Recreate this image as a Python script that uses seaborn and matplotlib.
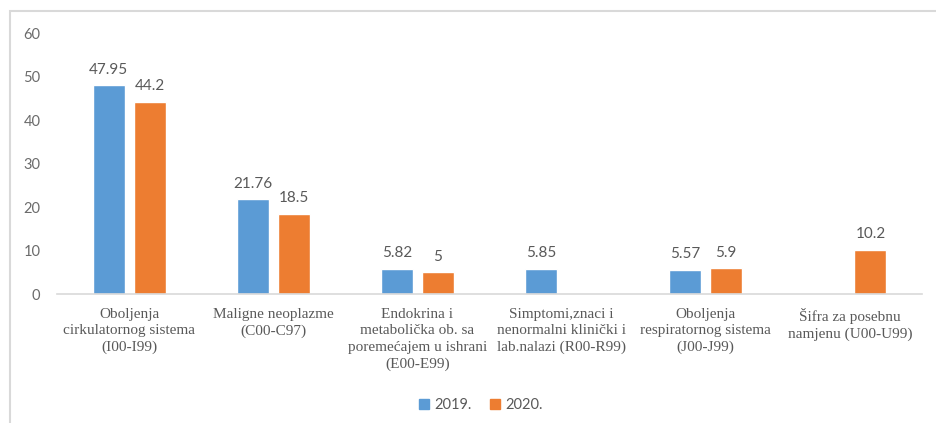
import pandas as pd
import numpy as np
import seaborn as sns
import matplotlib.pyplot as plt
from matplotlib.patches import Rectangle

categories = [
    "Oboljenja\ncirkulatornog sistema\n(I00-I99)",
    "Maligne neoplazme\n(C00-C97)",
    "Endokrina i\nmetabolička ob. sa\nporemećajem u ishrani\n(E00-E99)",
    "Simptomi,znaci i\nnenormalni klinički i\nlab.nalazi (R00-R99)",
    "Oboljenja\nrespiratornog sistema\n(J00-J99)",
    "Šifra za posebnu\nnamjenu (U00-U99)",
]
values_2019 = [47.95, 21.76, 5.82, 5.85, 5.57, np.nan]
values_2020 = [44.2, 18.5, 5, np.nan, 5.9, 10.2]
years = ["2019.", "2020."]
colors = ["#5B9BD5", "#ED7D31"]

df = pd.DataFrame({
    "kategorija": categories * 2,
    "godina": [years[0]] * len(categories) + [years[1]] * len(categories),
    "vrijednost": values_2019 + values_2020,
})

sns.set_style("white")
plt.rcParams["font.family"] = ["Lato", "DejaVu Sans"]

fig = plt.figure(figsize=(9.36, 4.23), dpi=100)
ax = fig.add_axes([57 / 936, 1 - 294 / 423, 865 / 936, 261 / 423])

sns.barplot(
    data=df, x="kategorija", y="vrijednost", hue="godina",
    order=categories, hue_order=years, palette=colors,
    width=0.57, gap=0.22, errorbar=None, saturation=1, ax=ax,
)

for c in ax.containers:
    ax.bar_label(c, fmt="{:g}", padding=6, fontsize=11, color="#595959")

ax.set_ylim(0, 60)
ax.set_yticks(range(0, 61, 10))
ax.set_xlim(-0.5, len(categories) - 0.5)
ax.set_xlabel("")
ax.set_ylabel("")
ax.tick_params(axis="y", labelsize=10.5, labelcolor="#6b6b6b", length=0, pad=12)
ax.tick_params(axis="x", length=0, pad=10)
for lab in ax.get_xticklabels():
    lab.set_family("Liberation Serif")
    lab.set_fontsize(11)
    lab.set_color("#595959")
    lab.set_linespacing(1.35)

for s in ["top", "right", "left"]:
    ax.spines[s].set_visible(False)
ax.spines["bottom"].set_color("#D9D9D9")
ax.spines["bottom"].set_linewidth(1.2)

ax.legend_.remove()
handles = [Rectangle((0, 0), 1, 1, color=col) for col in colors]
fig.legend(handles, years, loc="center", bbox_to_anchor=(481 / 936, 1 - 405 / 423),
           ncol=2, frameon=False, handlelength=0.7, handleheight=0.7,
           handletextpad=0.4, columnspacing=1.2, fontsize=10.5, labelcolor="#595959")

# outer chart frame
fig.patches.append(Rectangle((10 / 936, -0.1), 1.2, 1 - 11 / 423 + 0.1,
                             transform=fig.transFigure, fill=False,
                             edgecolor="#D9D9D9", linewidth=1.5))

fig.savefig("out.png", dpi=100)
